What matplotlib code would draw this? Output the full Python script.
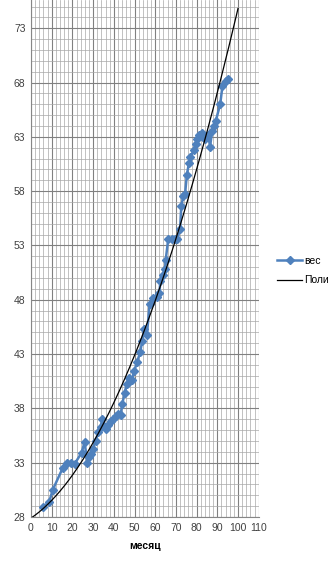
import numpy as np
from matplotlib import pyplot as plt
from matplotlib.ticker import MultipleLocator

plt.rcParams['font.family'] = ['Liberation Sans', 'DejaVu Sans']

# month / weight
month = [5.8, 8.8, 10.5, 15.3, 17.3, 19.2, 21.1, 24.4, 25.9, 27.2, 28.0, 29.0,
         30.0, 31.2, 32.5, 33.6, 34.4, 35.3, 36.3, 37.4, 38.6, 39.8, 41.0, 42.2,
         43.3, 44.1, 45.2, 46.2, 47.2, 48.6, 49.8, 51.3, 52.8, 53.7, 54.6, 56.0,
         57.3, 58.8, 60.8, 62.0, 62.5, 63.6, 64.7, 65.1, 66.3, 68.0, 69.6, 70.7,
         72.0, 72.6, 73.6, 74.4, 75.3, 76.3, 77.0, 78.6, 79.5, 80.3, 81.4, 82.5,
         83.2, 84.2, 85.6, 86.5, 87.5, 88.6, 89.3, 91.4, 92.5, 94.0, 95.3]
weight = [28.9, 29.4, 30.5, 32.5, 33.0, 33.0, 32.9, 33.9, 34.9, 33.0, 33.5, 33.8,
          34.3, 35.0, 35.8, 36.3, 37.0, 36.4, 36.1, 36.5, 36.8, 37.0, 37.3, 37.5,
          37.4, 38.4, 39.4, 40.2, 40.8, 40.6, 41.4, 42.3, 43.2, 44.2, 45.3, 44.8,
          47.6, 48.2, 48.3, 48.6, 49.7, 50.3, 50.8, 51.7, 53.6, 53.6, 53.6, 53.6,
          54.5, 56.6, 57.6, 57.7, 59.5, 60.6, 61.1, 61.8, 62.3, 62.8, 63.2, 63.4,
          63.0, 62.8, 63.2, 62.1, 63.5, 64.0, 64.5, 66.0, 67.7, 68.1, 68.3]

series_name = 'вес'
trend_name = 'Поли'
x_label = 'месяц'

fig = plt.figure(figsize=(3.29, 5.70), dpi=100)
ax = fig.add_axes([31 / 329, 53 / 570, 227.7 / 329, 517 / 570])

coef = np.polyfit(month, weight, 2)
xt = np.linspace(0, 100, 200)
ax.plot(xt, np.polyval(coef, xt), color='black', lw=0.9, label=trend_name, zorder=3)
ax.plot(month, weight, color='#4F81BD', lw=1.8, marker='D', ms=4,
        label=series_name, zorder=2)

ax.set_xlim(0, 110)
ax.set_ylim(28, 75.6)
ax.xaxis.set_major_locator(MultipleLocator(10))
ax.xaxis.set_minor_locator(MultipleLocator(2))
ax.set_yticks(np.arange(28, 75, 5))
ax.yaxis.set_minor_locator(MultipleLocator(1))
ax.grid(which='major', color='#808080', lw=0.8)
ax.grid(which='minor', color='#a8a8a8', lw=0.5)
ax.set_axisbelow(True)
for s in ['top', 'right']:
    ax.spines[s].set_visible(False)
for s in ['left', 'bottom']:
    ax.spines[s].set_color('#868686')
ax.tick_params(which='both', length=0, labelsize=7.5, colors='#404040', pad=4)
ax.set_xlabel(x_label, fontsize=7.5, fontweight='bold', labelpad=6)

h, l = ax.get_legend_handles_labels()
fig.legend(h[::-1], l[::-1], loc='upper left', bbox_to_anchor=(277 / 329, 1 - 256 / 570),
           frameon=False, fontsize=7.5, handlelength=2.4, handletextpad=0.2,
           labelspacing=0.9, borderaxespad=0, borderpad=0)

fig.savefig('out.png', dpi=100)
